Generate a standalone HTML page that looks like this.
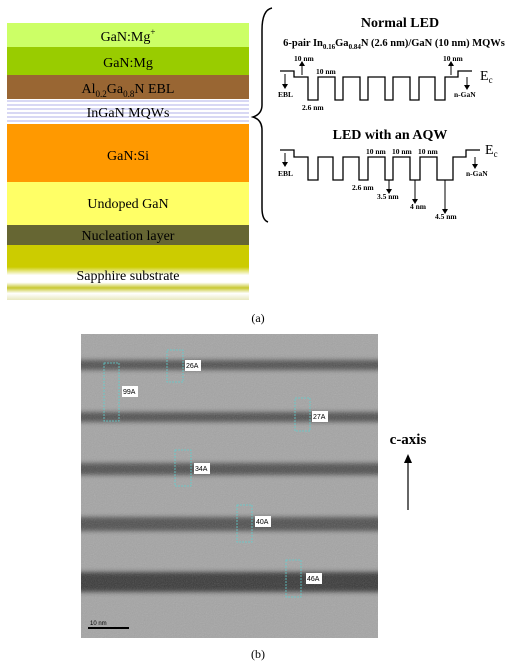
<!DOCTYPE html>
<html><head><meta charset="utf-8"><style>
body{margin:0;background:#fff;width:513px;height:665px;overflow:hidden;font-family:"Liberation Serif",serif}
svg{position:absolute;left:0;top:0}
</style></head><body>
<svg width="513" height="665" viewBox="0 0 513 665" font-family="Liberation Serif, serif">
<defs>
<linearGradient id="sap" x1="0" y1="0" x2="0" y2="1">
<stop offset="0" stop-color="#cccc00"/><stop offset="0.4" stop-color="#cccc00"/><stop offset="0.55" stop-color="#ffffff"/><stop offset="0.68" stop-color="#ffffff"/><stop offset="0.78" stop-color="#c8c830"/><stop offset="0.88" stop-color="#ffffff"/><stop offset="1" stop-color="#e8e8c0"/></linearGradient>
<pattern id="mqw" width="4" height="4" patternUnits="userSpaceOnUse"><rect width="4" height="4" fill="#ffffff"/><rect width="4" height="2" fill="#d8d8f4"/></pattern>
<clipPath id="temclip"><rect x="81" y="334" width="297" height="304"/></clipPath>
<filter id="blur" filterUnits="userSpaceOnUse" x="81" y="334" width="297" height="304"><feGaussianBlur stdDeviation="2.5"/></filter>
<filter id="noise" filterUnits="userSpaceOnUse" x="81" y="334" width="297" height="304"><feTurbulence type="fractalNoise" baseFrequency="0.9" numOctaves="2"/><feColorMatrix type="saturate" values="0"/><feComponentTransfer><feFuncA type="table" tableValues="0 0.25"/></feComponentTransfer></filter>
</defs>
<g font-size="14" text-anchor="middle">
<rect x="7" y="23" width="242" height="24" fill="#ccff66"/>
<rect x="7" y="47" width="242" height="28" fill="#99cc00"/>
<rect x="7" y="75" width="242" height="24" fill="#996633"/>
<rect x="7" y="99" width="242" height="25" fill="url(#mqw)"/>
<rect x="7" y="124" width="242" height="58" fill="#ff9900"/>
<rect x="7" y="182" width="242" height="43" fill="#ffff66"/>
<rect x="7" y="225" width="242" height="20" fill="#666633"/>
<rect x="7" y="245" width="242" height="55" fill="url(#sap)"/>
<text x="128" y="41">GaN:Mg<tspan font-size="9" dy="-6">+</tspan></text>
<text x="128" y="67">GaN:Mg</text>
<text x="128" y="93">Al<tspan font-size="9" dy="4">0.2</tspan><tspan dy="-4">Ga</tspan><tspan font-size="9" dy="4">0.8</tspan><tspan dy="-4">N EBL</tspan></text>
<text x="128" y="117">InGaN MQWs</text>
<text x="128" y="160">GaN:Si</text>
<text x="128" y="208">Undoped GaN</text>
<text x="128" y="240">Nucleation layer</text>
<text x="128" y="280">Sapphire substrate</text>
</g>
<path d="M272 8 Q262 10 262 30 L262 105 Q262 114 253 117 Q262 120 262 130 L262 208 Q262 220 268 222" fill="none" stroke="#000" stroke-width="1.5"/>
<g font-weight="bold">
<text x="400" y="27" font-size="14" text-anchor="middle">Normal LED</text>
<text x="394" y="46" font-size="10.5" text-anchor="middle">6-pair In<tspan font-size="7" dy="3">0.16</tspan><tspan dy="-3">Ga</tspan><tspan font-size="7" dy="3">0.84</tspan><tspan dy="-3">N (2.6 nm)/GaN (10 nm) MQWs</tspan></text>
<path d="M280 71 H294 V77 H308 V100 H318 V77 H335 V100 H343 V77 H360 V100 H368 V77 H385 V100 H393 V77 H410 V100 H419 V77 H435 V100 H445 V77 H458 V71 H472" fill="none" stroke="#000" stroke-width="1.3"/>
<text x="480" y="80" font-size="14" font-weight="normal">E<tspan font-size="9" dy="3">c</tspan></text>
<g font-size="7.5" font-family="Liberation Serif, serif">
<text x="294" y="61">10 nm</text><text x="443" y="61">10 nm</text><text x="316" y="74">10 nm</text>
<text x="278" y="97">EBL</text><text x="454" y="97">n-GaN</text><text x="302" y="110">2.6 nm</text>
</g>
<g stroke="#000" stroke-width="1"><line x1="302" y1="75" x2="302" y2="64"/><line x1="451" y1="75" x2="451" y2="64"/><line x1="285" y1="74" x2="285" y2="86"/><line x1="467" y1="77" x2="467" y2="87"/></g>
<g fill="#000"><path d="M299 66 L302 61 L305 66Z"/><path d="M448 66 L451 61 L454 66Z"/><path d="M282 84 L285 89 L288 84Z"/><path d="M464 85 L467 90 L470 85Z"/></g>
</g>
<g font-weight="bold">
<text x="390" y="139" font-size="14" text-anchor="middle">LED with an AQW</text>
<path d="M280 150 H294 V157 H308 V180 H318 V157 H333 V180 H343 V157 H359 V180 H368 V157 H385 V180 H393 V157 H410 V180 H420 V157 H437 V180 H453 V157 H466 V150 H480" fill="none" stroke="#000" stroke-width="1.3"/>
<text x="485" y="154" font-size="14" font-weight="normal">E<tspan font-size="9" dy="3">c</tspan></text>
<g font-size="7.5">
<text x="366" y="154">10 nm</text><text x="392" y="154">10 nm</text><text x="418" y="154">10 nm</text>
<text x="278" y="176">EBL</text><text x="466" y="176">n-GaN</text>
<text x="352" y="190">2.6 nm</text><text x="377" y="199">3.5 nm</text><text x="410" y="209">4 nm</text><text x="435" y="219">4.5 nm</text>
</g>
<g stroke="#000" stroke-width="1"><line x1="285" y1="153" x2="285" y2="164"/><line x1="475" y1="157" x2="475" y2="166"/><line x1="389" y1="180" x2="389" y2="191"/><line x1="415" y1="180" x2="415" y2="201"/><line x1="445" y1="180" x2="445" y2="211"/></g>
<g fill="#000"><path d="M282 162 L285 167 L288 162Z"/><path d="M472 164 L475 169 L478 164Z"/><path d="M386 189 L389 194 L392 189Z"/><path d="M412 199 L415 204 L418 199Z"/><path d="M442 209 L445 214 L448 209Z"/></g>
</g>
<text x="258" y="322" font-size="12" text-anchor="middle">(a)</text>
<g clip-path="url(#temclip)">
<rect x="81" y="334" width="297" height="304" fill="#a4a4a4"/>
<g filter="url(#blur)" fill="#505050">
<rect x="70" y="360" width="320" height="10"/>
<rect x="70" y="412" width="320" height="10"/>
<rect x="70" y="463" width="320" height="12"/>
<rect x="70" y="517" width="320" height="14"/>
<rect x="70" y="572" width="320" height="20" fill="#383838"/>
</g>
<rect x="81" y="334" width="297" height="304" filter="url(#noise)"/>
<g fill="none" stroke="#5fd0d0" stroke-width="0.8" stroke-dasharray="2,1">
<rect x="167" y="350" width="16" height="32"/><rect x="104" y="363" width="15" height="58"/><rect x="295" y="398" width="15" height="33"/>
<rect x="175" y="450" width="16" height="36"/><rect x="237" y="505" width="15" height="37"/><rect x="286" y="560" width="15" height="37"/>
</g>
<g font-family="Liberation Sans, sans-serif" font-size="7">
<rect x="185" y="360" width="16" height="11" fill="#fff"/><text x="186" y="368">26A</text>
<rect x="122" y="386" width="16" height="11" fill="#fff"/><text x="123" y="394">99A</text>
<rect x="312" y="411" width="16" height="11" fill="#fff"/><text x="313" y="419">27A</text>
<rect x="194" y="463" width="16" height="11" fill="#fff"/><text x="195" y="471">34A</text>
<rect x="255" y="516" width="16" height="11" fill="#fff"/><text x="256" y="524">40A</text>
<rect x="306" y="573" width="16" height="11" fill="#fff"/><text x="307" y="581">46A</text>
</g>
<line x1="88" y1="628" x2="129" y2="628" stroke="#000" stroke-width="2"/>
<text x="90" y="625" font-family="Liberation Sans, sans-serif" font-size="6">10 nm</text>
</g>
<g>
<text x="408" y="444" font-size="15" font-weight="bold" text-anchor="middle">c-axis</text>
<line x1="408" y1="460" x2="408" y2="510" stroke="#000" stroke-width="1.2"/>
<path d="M404 463 L408 454 L412 463Z" fill="#000"/>
</g>
<text x="258" y="658" font-size="12" text-anchor="middle">(b)</text>
</svg>
</body></html>
